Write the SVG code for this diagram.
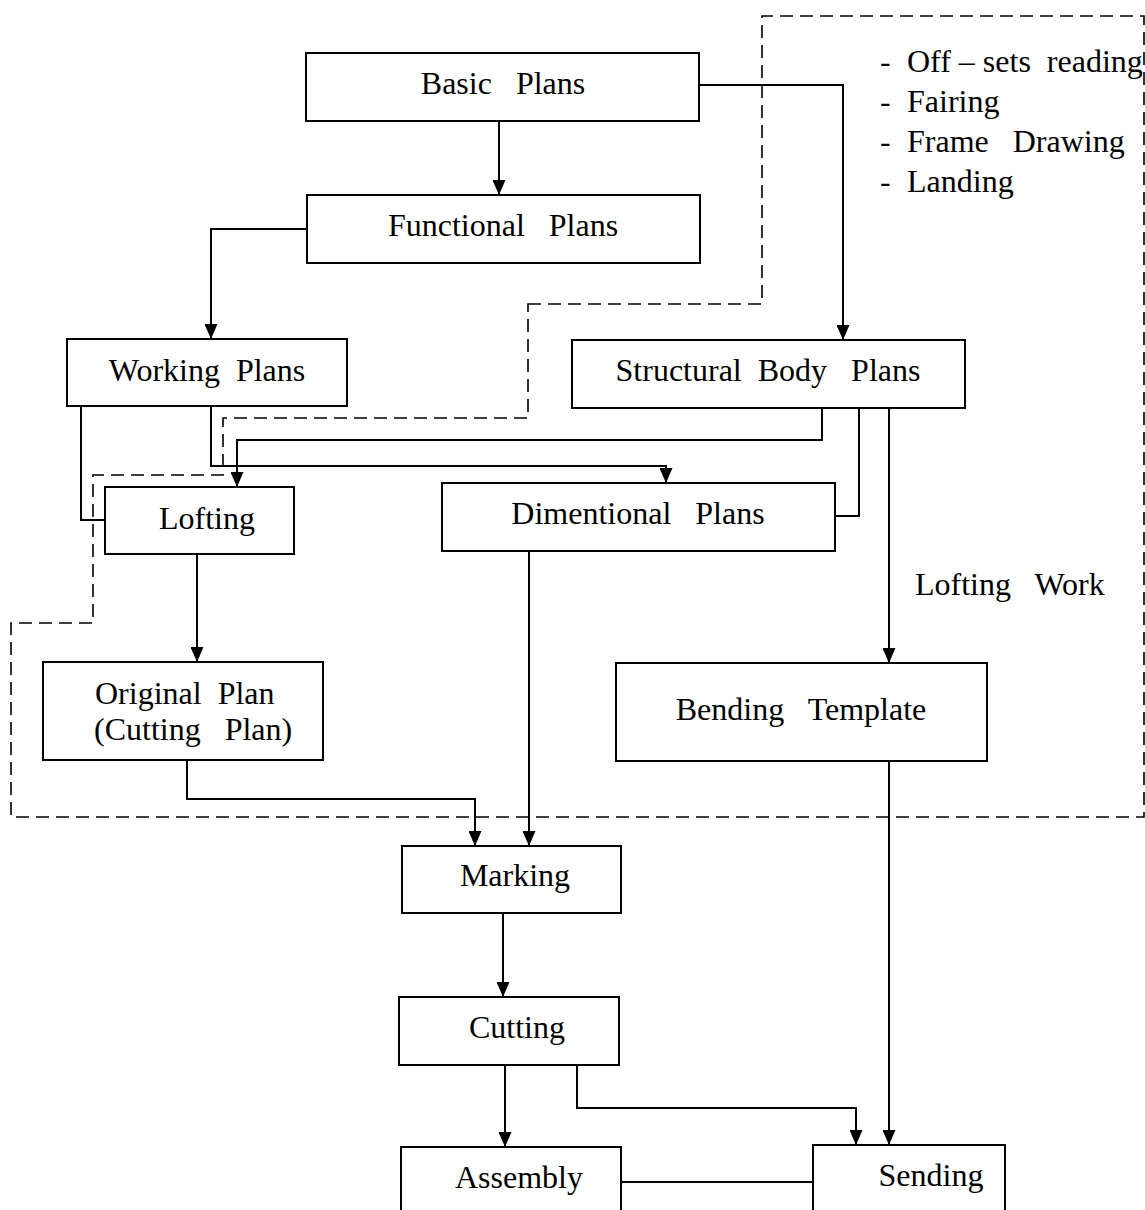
<svg xmlns="http://www.w3.org/2000/svg" width="1145" height="1210" viewBox="0 0 1145 1210">
<style>
.box{fill:#fff;stroke:#000;stroke-width:2}
.lbl{font-family:"Liberation Serif","Times New Roman",serif;font-size:32px;fill:#000;white-space:pre}
.c{text-anchor:middle}
.con{fill:none;stroke:#000;stroke-width:2}
.dash{fill:none;stroke:#000;stroke-width:1.6;stroke-dasharray:13 7}
</style>
<defs>
<marker id="arr" viewBox="0 0 15 13" refX="15" refY="6.5" markerWidth="15" markerHeight="13" orient="auto" markerUnits="userSpaceOnUse">
<path d="M0,0 L15,6.5 L0,13 Z" fill="#000"/>
</marker>
</defs>
<rect width="1145" height="1210" fill="#fff"/>
<g id="lofting-work-region">
<path class="dash" d="M528,304 L762,304 L762,16 L1144,16 L1144,817 L11,817 L11,623 L93,623 L93,475 L223,475 L223,418 L528,418 Z"/>
<text class="lbl" xml:space="preserve"><tspan x="880" y="72">-</tspan><tspan x="907" y="72">Off – sets  reading</tspan></text>
<text class="lbl" xml:space="preserve"><tspan x="880" y="112">-</tspan><tspan x="907" y="112">Fairing</tspan></text>
<text class="lbl" xml:space="preserve"><tspan x="880" y="152">-</tspan><tspan x="907" y="152">Frame   Drawing</tspan></text>
<text class="lbl" xml:space="preserve"><tspan x="880" y="192">-</tspan><tspan x="907" y="192">Landing</tspan></text>
<text class="lbl" x="915" y="595" xml:space="preserve">Lofting   Work</text>
</g>
<g id="connectors">
<path class="con" d="M499,121 V195" marker-end="url(#arr)"/>
<path class="con" d="M699,85 H843 V340" marker-end="url(#arr)"/>
<path class="con" d="M307,229 H211 V339" marker-end="url(#arr)"/>
<path class="con" d="M81,407 V520 H105"/>
<path class="con" d="M211,407 V466 H666 V483" marker-end="url(#arr)"/>
<path class="con" d="M822,408 V440 H237 V487" marker-end="url(#arr)"/>
<path class="con" d="M859,408 V516 H835"/>
<path class="con" d="M889,408 V663" marker-end="url(#arr)"/>
<path class="con" d="M197,554 V662" marker-end="url(#arr)"/>
<path class="con" d="M187,760 V799 H475 V846" marker-end="url(#arr)"/>
<path class="con" d="M529,551 V846" marker-end="url(#arr)"/>
<path class="con" d="M889,761 V1145" marker-end="url(#arr)"/>
<path class="con" d="M503,913 V997" marker-end="url(#arr)"/>
<path class="con" d="M505,1065 V1147" marker-end="url(#arr)"/>
<path class="con" d="M577,1065 V1108 H856 V1145" marker-end="url(#arr)"/>
<path class="con" d="M621,1182 H813"/>
</g>
<g id="basic-plans"><rect class="box" x="306" y="53" width="393" height="68"/><text class="lbl c" x="503" y="94" xml:space="preserve">Basic   Plans</text></g>
<g id="functional-plans"><rect class="box" x="307" y="195" width="393" height="68"/><text class="lbl c" x="503" y="236" xml:space="preserve">Functional   Plans</text></g>
<g id="working-plans"><rect class="box" x="67" y="339" width="280" height="67"/><text class="lbl c" x="207" y="381" xml:space="preserve">Working  Plans</text></g>
<g id="structural-body-plans"><rect class="box" x="572" y="340" width="393" height="68"/><text class="lbl c" x="768" y="381" xml:space="preserve">Structural  Body   Plans</text></g>
<g id="lofting"><rect class="box" x="105" y="487" width="189" height="67"/><text class="lbl c" x="207" y="529">Lofting</text></g>
<g id="dimentional-plans"><rect class="box" x="442" y="483" width="393" height="68"/><text class="lbl c" x="638" y="524" xml:space="preserve">Dimentional   Plans</text></g>
<g id="original-plan"><rect class="box" x="43" y="662" width="280" height="98"/><text class="lbl" xml:space="preserve"><tspan x="95" y="704">Original  Plan</tspan><tspan x="94" y="740">(Cutting   Plan)</tspan></text></g>
<g id="bending-template"><rect class="box" x="616" y="663" width="371" height="98"/><text class="lbl c" x="801" y="720" xml:space="preserve">Bending   Template</text></g>
<g id="marking"><rect class="box" x="402" y="846" width="219" height="67"/><text class="lbl c" x="515" y="886">Marking</text></g>
<g id="cutting"><rect class="box" x="399" y="997" width="220" height="68"/><text class="lbl c" x="517" y="1038">Cutting</text></g>
<g id="assembly"><rect class="box" x="401" y="1147" width="220" height="70"/><text class="lbl c" x="519" y="1188">Assembly</text></g>
<g id="sending"><rect class="box" x="813" y="1145" width="192" height="72"/><text class="lbl c" x="931" y="1186">Sending</text></g>
</svg>
